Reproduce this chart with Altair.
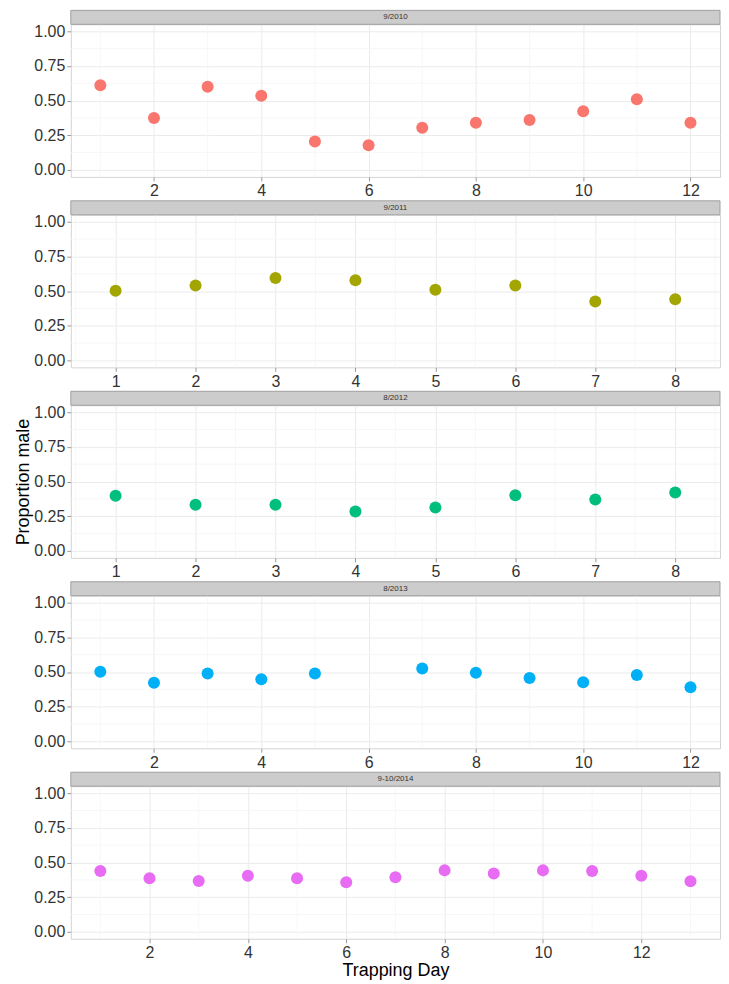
import altair as alt
import pandas as pd

# ---- data ----
panel_labels = ["9/2010", "9/2011", "8/2012", "8/2013", "9-10/2014"]
panel_colors = ["#F8766D", "#A3A500", "#00BF7D", "#00B0F6", "#E76BF3"]

days_2010 = [1, 2, 3, 4, 5, 6, 7, 8, 9, 10, 11, 12]
prop_2010 = [0.61, 0.375, 0.60, 0.535, 0.205, 0.178, 0.305, 0.34, 0.36, 0.424, 0.51, 0.34]

days_2011 = [1, 2, 3, 4, 5, 6, 7, 8]
prop_2011 = [0.502, 0.54, 0.595, 0.578, 0.509, 0.54, 0.424, 0.441]

days_2012 = [1, 2, 3, 4, 5, 6, 7, 8]
prop_2012 = [0.397, 0.333, 0.333, 0.284, 0.312, 0.402, 0.371, 0.421]

days_2013 = [1, 2, 3, 4, 5, 7, 8, 9, 10, 11, 12]
prop_2013 = [0.502, 0.423, 0.49, 0.447, 0.49, 0.526, 0.495, 0.457, 0.426, 0.478, 0.39]

days_2014 = [1, 2, 3, 4, 5, 6, 7, 8, 9, 10, 11, 12, 13]
prop_2014 = [0.438, 0.386, 0.367, 0.405, 0.386, 0.357, 0.393, 0.443, 0.421, 0.443, 0.438, 0.405, 0.364]

all_days = [days_2010, days_2011, days_2012, days_2013, days_2014]
all_props = [prop_2010, prop_2011, prop_2012, prop_2013, prop_2014]

x_domains = [[0.45, 12.55], [0.44, 8.56], [0.44, 8.56], [0.45, 12.55], [0.4, 13.6]]
x_ticks = [[2, 4, 6, 8, 10, 12], [1, 2, 3, 4, 5, 6, 7, 8], [1, 2, 3, 4, 5, 6, 7, 8],
           [2, 4, 6, 8, 10, 12], [2, 4, 6, 8, 10, 12]]
x_minor = [[1, 3, 5, 7, 9, 11], [0.5, 1.5, 2.5, 3.5, 4.5, 5.5, 6.5, 7.5, 8.5],
           [0.5, 1.5, 2.5, 3.5, 4.5, 5.5, 6.5, 7.5, 8.5],
           [1, 3, 5, 7, 9, 11], [1, 3, 5, 7, 9, 11, 13]]
y_ticks = [0, 0.25, 0.5, 0.75, 1.0]
y_minor = [0.125, 0.375, 0.625, 0.875]

W = 651
H = 153
STRIP = 14


def panel(i):
    last = i == 4
    df = pd.DataFrame({"day": all_days[i], "prop": all_props[i]})
    xscale = alt.Scale(domain=x_domains[i], nice=False, zero=False)
    yscale = alt.Scale(domain=[-0.05, 1.05], nice=False, zero=False)
    xaxis = alt.Axis(values=x_ticks[i], title="Trapping Day" if last else "",
                     titleFontSize=18, titleFontWeight="normal",
                     titlePadding=1, titleColor="#000000")
    yaxis = alt.Axis(values=y_ticks, format=".2f", title="Proportion male",
                     titleOpacity=1 if i == 2 else 0, titleFontSize=18,
                     titleFontWeight="normal", titlePadding=1, titleColor="#000000")
    xenc = alt.X("day:Q", scale=xscale, axis=xaxis, title="Trapping Day" if last else "")
    yenc = alt.Y("prop:Q", scale=yscale, axis=yaxis, title="Proportion male")

    minor_x = alt.Chart(pd.DataFrame({"day": x_minor[i]})).mark_rule(
        color="#F5F5F5", strokeWidth=0.8).encode(x=xenc)
    minor_y = alt.Chart(pd.DataFrame({"prop": y_minor})).mark_rule(
        color="#F5F5F5", strokeWidth=0.8).encode(y=yenc)

    pts = alt.Chart(df).mark_circle(size=145, opacity=1, color=panel_colors[i]).encode(
        x=xenc, y=yenc)

    lab = pd.DataFrame({"label": [panel_labels[i]]})
    strip = alt.Chart(lab).mark_rect(fill="#CCCCCC", stroke="#A0A0A0", strokeWidth=1).encode(
        x=alt.value(0), x2=alt.value(W), y=alt.value(-STRIP), y2=alt.value(0))
    strip_text = alt.Chart(lab).mark_text(fontSize=8, color="#333333").encode(
        x=alt.value(W / 2), y=alt.value(-STRIP / 2), text="label:N")

    return alt.layer(minor_x, minor_y, pts, strip, strip_text).properties(width=W, height=H)


chart = alt.vconcat(*[panel(i) for i in range(5)], spacing=0).properties(
    padding={"left": 6, "top": 0, "right": 0, "bottom": 0}
).configure(
    font="Liberation Sans"
).configure_view(
    stroke="#D4D4D4", strokeWidth=1
).configure_axis(
    labelFontSize=16, labelColor="#333333", labelPadding=2,
    tickColor="#999999", tickSize=4, domain=False,
    grid=True, gridColor="#EBEBEB", gridWidth=1,
    labelFlush=False, labelOverlap=False
)

chart.save("out.html", embed_options={"renderer": "svg", "actions": False})
